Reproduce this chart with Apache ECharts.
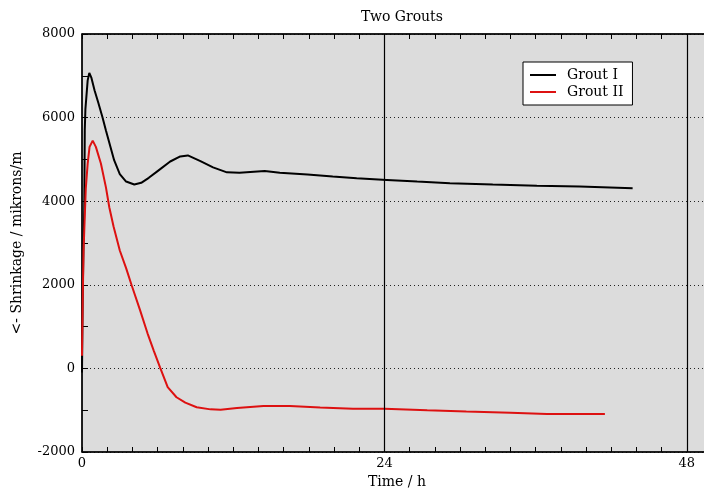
<!DOCTYPE html>
<html>
<head>
<meta charset="utf-8">
<script src="https://cdn.jsdelivr.net/npm/echarts@6/dist/echarts.min.js"></script>
<style>
html,body{margin:0;padding:0;background:#fff;}
#chart{width:704px;height:489px;}
</style>
</head>
<body>
<div id="chart"></div>
<script>
var titleText = 'Two Grouts';
var seriesNames = ['Grout I', 'Grout II'];
var xTickLabels = [0, 24, 48];
var yTickLabels = [-2000, 0, 2000, 4000, 6000, 8000];
var verticalLines = [24, 48];

var groutI = [
  [0, -100], [0.05, 1600], [0.12, 3000], [0.18, 3800], [0.22, 5700], [0.27, 6200],
  [0.45, 6890], [0.58, 7070], [0.75, 6950], [1.0, 6650], [1.3, 6350], [1.63, 6000],
  [1.9, 5690], [2.55, 4980], [3.0, 4650], [3.5, 4470], [4.15, 4400], [4.7, 4440],
  [5.3, 4560], [6.0, 4720], [7.0, 4950], [7.8, 5070], [8.4, 5095], [9.4, 4960],
  [10.4, 4810], [11.5, 4690], [12.5, 4680], [14.5, 4720], [15.7, 4680], [17.9, 4640],
  [19.9, 4590], [21.8, 4550], [24.2, 4510], [26.6, 4470], [29.2, 4430], [32.6, 4400],
  [36.1, 4370], [39.5, 4350], [43.7, 4310]
];
var groutII = [
  [0, 300], [0.05, 1500], [0.12, 2800], [0.18, 3300], [0.3, 4300], [0.45, 4900],
  [0.6, 5300], [0.85, 5450], [1.1, 5300], [1.5, 4900], [1.9, 4330], [2.17, 3850],
  [2.5, 3400], [3.0, 2820], [3.5, 2400], [3.94, 1990], [4.6, 1400], [5.2, 840],
  [5.7, 420], [6.2, 20], [6.8, -450], [7.5, -690], [8.2, -820], [9.1, -930],
  [10.2, -980], [11, -990], [12.3, -950], [14.4, -900], [16.5, -900], [18.9, -935],
  [21.5, -965], [24, -965], [27.4, -1000], [30.5, -1030], [34, -1060], [36.9, -1090],
  [41.5, -1090]
];

var FONT = 'DejaVu Serif';
var chart = echarts.init(document.getElementById('chart'), null, {renderer: 'canvas'});

function xLabelFmt(v) { return xTickLabels.indexOf(v) >= 0 ? String(v) : ''; }

var option = {
  animation: false,
  backgroundColor: '#ffffff',
  title: {
    text: titleText,
    left: 397, top: 5, textAlign: 'center',
    textStyle: {fontFamily: FONT, fontSize: 14, fontWeight: 'normal', color: '#000'}
  },
  legend: {
    orient: 'vertical',
    left: 523, top: 62,
    padding: [6, 9, 6, 7],
    itemGap: 3,
    itemWidth: 26, itemHeight: 2,
    backgroundColor: '#ffffff',
    borderColor: '#000', borderWidth: 1,
    borderRadius: 0,
    data: [
      {name: seriesNames[0], icon: 'rect'},
      {name: seriesNames[1], icon: 'rect'}
    ],
    textStyle: {fontFamily: FONT, fontSize: 14, color: '#000', padding: [0, 0, 0, 6]}
  },
  grid: {
    left: 82, top: 34, width: 630, height: 418,
    outerBoundsMode: 'none', containLabel: false,
    show: true, backgroundColor: '#dcdcdc', borderColor: '#000', borderWidth: 1
  },
  xAxis: [
    {
      type: 'value', min: 0, max: 50, interval: 2, position: 'bottom',
      name: 'Time / h', nameLocation: 'middle', nameGap: 16,
      nameTextStyle: {fontFamily: FONT, fontSize: 14, color: '#000'},
      axisLine: {show: true, onZero: false, lineStyle: {color: '#000', width: 1.5}},
      axisTick: {show: true, inside: true, length: 5, lineStyle: {color: '#000'}},
      axisLabel: {fontFamily: FONT, fontSize: 13, color: '#000', margin: 5, formatter: xLabelFmt, showMaxLabel: false},
      splitLine: {show: false}
    },
    {
      type: 'value', min: 0, max: 50, interval: 2, position: 'top',
      axisLine: {show: true, onZero: false, lineStyle: {color: '#000', width: 1.5}},
      axisTick: {show: true, inside: true, length: 5, lineStyle: {color: '#000'}},
      axisLabel: {show: false},
      splitLine: {show: false}
    }
  ],
  yAxis: {
    type: 'value', min: -2000, max: 8000, interval: 2000,
    name: '<- Shrinkage / mikrons/m', nameLocation: 'middle', nameGap: 58, nameRotate: 90,
    nameTextStyle: {fontFamily: FONT, fontSize: 14, color: '#000'},
    axisLine: {show: true, onZero: false, lineStyle: {color: '#000', width: 1.5}},
    axisTick: {show: true, inside: true, length: 6, lineStyle: {color: '#000'}},
    minorTick: {show: true, splitNumber: 2, length: 6, lineStyle: {color: '#000'}},
    axisLabel: {fontFamily: FONT, fontSize: 13, color: '#000', margin: 7,
      formatter: function (v) { return yTickLabels.indexOf(v) >= 0 ? String(v) : ''; }},
    splitLine: {show: true, lineStyle: {color: '#222', type: [1, 3], width: 1}}
  },
  series: [
    {
      name: seriesNames[0], type: 'line', data: groutI, showSymbol: false, symbol: 'none',
      lineStyle: {color: '#000', width: 2}, itemStyle: {color: '#000'},
      markLine: {
        silent: true, symbol: 'none', label: {show: false},
        lineStyle: {color: '#000', width: 1.2, type: 'solid'},
        data: verticalLines.map(function (v) { return {xAxis: v}; })
      },
      z: 3
    },
    {
      name: seriesNames[1], type: 'line', data: groutII, showSymbol: false, symbol: 'none',
      lineStyle: {color: '#dd1111', width: 2}, itemStyle: {color: '#dd1111'},
      z: 4
    }
  ]
};
chart.setOption(option);
</script>
</body>
</html>
